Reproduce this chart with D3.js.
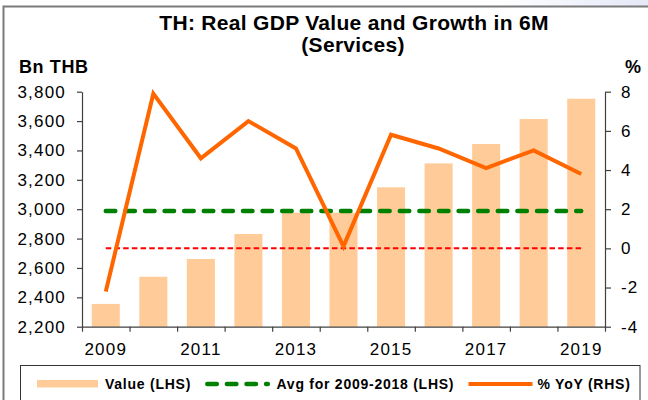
<!DOCTYPE html>
<html>
<head>
<meta charset="utf-8">
<script src="https://cdn.jsdelivr.net/npm/d3@7"></script>
<style>
  body { margin: 0; background: #fff; }
  text { font-family: "Liberation Sans", Arial, sans-serif; fill: #000; }
</style>
</head>
<body>
<div id="chart"></div>
<script>
const years = ["2009", "2010", "2011", "2012", "2013", "2014", "2015", "2016", "2017", "2018", "2019"];
const values = [2355, 2540, 2661, 2831, 2976, 2976, 3149, 3312, 3444, 3614, 3752];
const growth = [-2.2, 7.9, 4.6, 6.5, 5.1, 0.1, 5.8, 5.1, 4.1, 5.0, 3.8];
const avgValue = 2988;
const zeroLevel = 0;
const leftTicks = [2200, 2400, 2600, 2800, 3000, 3200, 3400, 3600, 3800];
const rightTicks = [-4, -2, 0, 2, 4, 6, 8];
const labelYears = ["2009", "2011", "2013", "2015", "2017", "2019"];

const W = 648, H = 400;
const plot = { left: 82, right: 605, top: 91.7, bottom: 326.7 };
const axisColor = "#404040";

const svg = d3.select("#chart").append("svg")
  .attr("width", W)
  .attr("height", H);

// top-right tint and outer frame
const defs = svg.append("defs");
const grad = defs.append("linearGradient").attr("id", "tint");
grad.append("stop").attr("offset", "0").attr("stop-color", "#ffffff");
grad.append("stop").attr("offset", "1").attr("stop-color", "#e4e8f7");
svg.append("rect").attr("x", 500).attr("y", 0).attr("width", 148).attr("height", 6)
  .attr("fill", "url(#tint)");

svg.append("rect")
  .attr("x", 3.5).attr("y", 6.5)
  .attr("width", 720).attr("height", 500)
  .attr("fill", "#fff")
  .attr("stroke", "#7a7a7a")
  .attr("stroke-width", 2);

// title
svg.append("text")
  .attr("x", 354).attr("y", 30)
  .attr("text-anchor", "middle")
  .style("font-size", "21px").style("font-weight", "bold")
  .style("letter-spacing", "0.3px")
  .text("TH: Real GDP Value and Growth in 6M");

svg.append("text")
  .attr("x", 353).attr("y", 52)
  .attr("text-anchor", "middle")
  .style("font-size", "21px").style("font-weight", "bold")
  .style("letter-spacing", "0.3px")
  .text("(Services)");

svg.append("text")
  .attr("x", 19).attr("y", 73)
  .style("font-size", "18px").style("font-weight", "bold")
  .style("letter-spacing", "0.6px")
  .text("Bn THB");

svg.append("text")
  .attr("x", 625).attr("y", 73)
  .style("font-size", "18px").style("font-weight", "bold")
  .text("%");

// scales
const x = d3.scaleBand()
  .domain(years)
  .range([plot.left, plot.right])
  .paddingInner(0.41)
  .paddingOuter(0.205);

const xEdge = d3.scaleLinear()
  .domain([0, years.length])
  .range([plot.left, plot.right]);

const yL = d3.scaleLinear().domain([2200, 3800]).range([plot.bottom, plot.top]);
const yR = d3.scaleLinear().domain([-4, 8]).range([plot.bottom, plot.top]);

const cx = d => x(d) + x.bandwidth() / 2;

// bars
svg.append("g").selectAll("rect")
  .data(years)
  .join("rect")
  .attr("x", d => x(d))
  .attr("y", (d, i) => yL(values[i]))
  .attr("width", x.bandwidth())
  .attr("height", (d, i) => plot.bottom - yL(values[i]))
  .attr("fill", "#ffcc99");

// zero line (RHS) and average line (LHS)
svg.append("line")
  .attr("x1", cx(years[0])).attr("x2", cx(years[years.length - 1]))
  .attr("y1", yR(zeroLevel)).attr("y2", yR(zeroLevel))
  .attr("stroke", "#ff0000")
  .attr("stroke-width", 2)
  .attr("stroke-dasharray", "5.5,3.2");

svg.append("line")
  .attr("x1", cx(years[0])).attr("x2", cx(years[years.length - 1]))
  .attr("y1", yL(avgValue)).attr("y2", yL(avgValue))
  .attr("stroke", "#008000")
  .attr("stroke-width", 4.5)
  .attr("stroke-linecap", "round")
  .attr("stroke-dasharray", "9.5,10.1");

// growth line
const line = d3.line()
  .x((d, i) => cx(years[i]))
  .y(d => yR(d));

svg.append("path")
  .datum(growth)
  .attr("fill", "none")
  .attr("stroke", "#ff6600")
  .attr("stroke-width", 4)
  .attr("stroke-linejoin", "miter")
  .attr("d", line);

// axes
function styleAxis(g) {
  g.attr("font-family", null).attr("font-size", null);
  g.select(".domain").attr("stroke", axisColor).attr("stroke-width", 1.2);
  g.selectAll(".tick line").attr("stroke", axisColor).attr("stroke-width", 1.2);
  g.selectAll(".tick text")
    .style("font-size", "17px")
    .style("letter-spacing", "1.2px")
    .attr("fill", "#000");
}

svg.append("g")
  .attr("transform", `translate(${plot.left},0)`)
  .call(d3.axisLeft(yL).tickValues(leftTicks).tickSize(5).tickSizeOuter(0)
    .tickPadding(11).tickFormat(d3.format(",")))
  .call(styleAxis);

svg.append("g")
  .attr("transform", `translate(${plot.right},0)`)
  .call(d3.axisRight(yR).tickValues(rightTicks).tickSize(6).tickSizeOuter(0)
    .tickPadding(10).tickFormat(d => String(d)))
  .call(styleAxis);

svg.append("g")
  .attr("transform", `translate(0,${plot.bottom})`)
  .call(d3.axisBottom(xEdge).tickValues(d3.range(years.length + 1)).tickSize(5)
    .tickSizeOuter(0).tickFormat(""))
  .call(styleAxis);

svg.append("g")
  .attr("transform", `translate(0,${plot.bottom})`)
  .call(d3.axisBottom(x).tickSize(0).tickPadding(16)
    .tickFormat(d => labelYears.includes(d) ? d : ""))
  .call(styleAxis)
  .call(g => g.select(".domain").remove());

// legend
const legend = svg.append("g");

legend.append("rect")
  .attr("x", 20.5).attr("y", 365.5)
  .attr("width", 619.5).attr("height", 60)
  .attr("fill", "#fff")
  .attr("stroke", "#333")
  .attr("stroke-width", 1);

legend.append("rect")
  .attr("x", 37).attr("y", 380)
  .attr("width", 61).attr("height", 7.5)
  .attr("fill", "#ffcc99");

legend.append("line")
  .attr("x1", 207.3).attr("x2", 267.8)
  .attr("y1", 384).attr("y2", 384)
  .attr("stroke", "#008000")
  .attr("stroke-width", 4.5)
  .attr("stroke-linecap", "round")
  .attr("stroke-dasharray", "9.5,10.1");

legend.append("line")
  .attr("x1", 468.5).attr("x2", 532.5)
  .attr("y1", 384).attr("y2", 384)
  .attr("stroke", "#ff6600")
  .attr("stroke-width", 4);

const legendItems = [
  { x: 105, label: "Value (LHS)" },
  { x: 276.5, label: "Avg for 2009-2018 (LHS)" },
  { x: 537.5, label: "% YoY (RHS)" }
];

legend.selectAll("text.item")
  .data(legendItems)
  .join("text")
  .attr("class", "item")
  .attr("x", d => d.x)
  .attr("y", 389)
  .style("font-size", "14px")
  .style("font-weight", "bold")
  .style("letter-spacing", "0.75px")
  .text(d => d.label);
</script>
</body>
</html>
